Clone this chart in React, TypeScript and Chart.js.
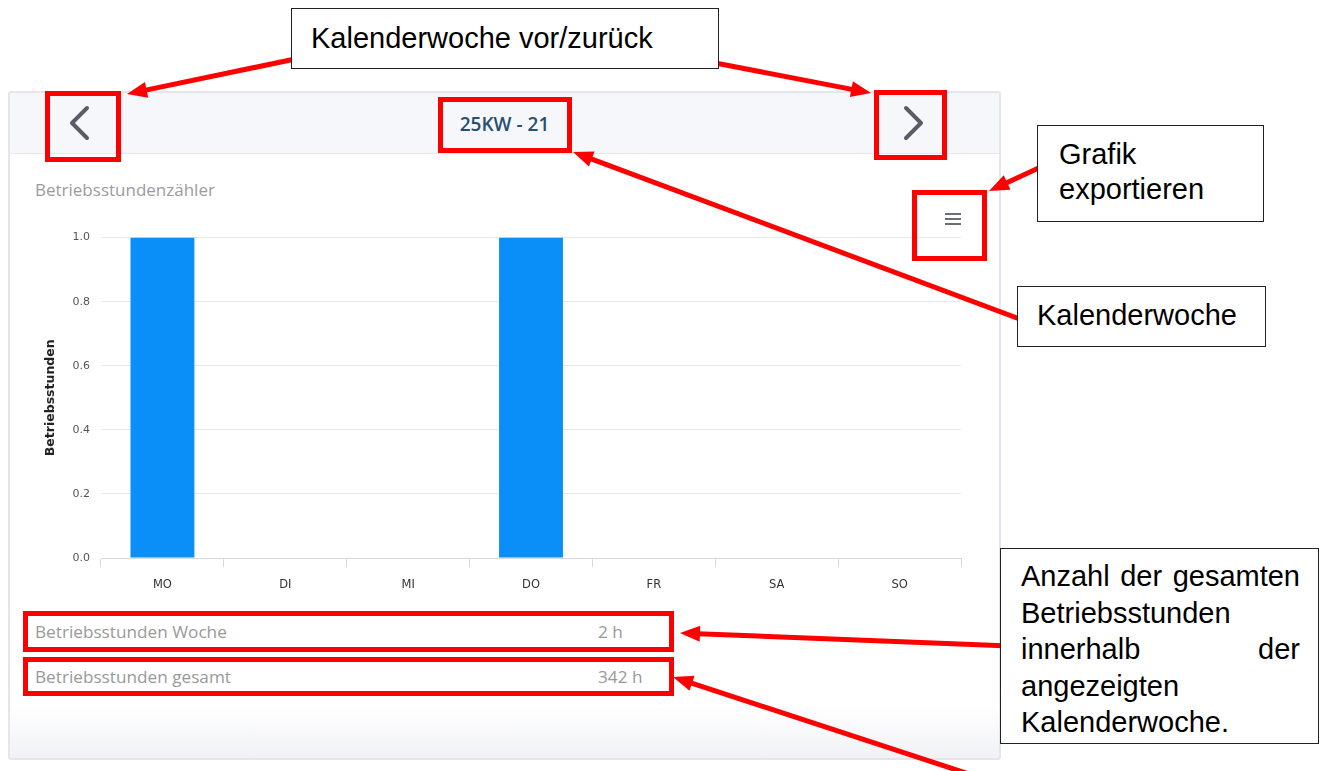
import React, { useEffect, useRef } from "react";
import { Chart, registerables } from "chart.js";
Chart.register(...registerables);

// ---- data ----
const days = ["MO", "DI", "MI", "DO", "FR", "SA", "SO"];
const hours = [1, 0, 0, 1, 0, 0, 0];
const yTicks = [0, 0.2, 0.4, 0.6, 0.8, 1.0];
const weekLabel = "25KW - 21";
const chartTitle = "Betriebsstundenzähler";
const yAxisTitle = "Betriebsstunden";
const summaryLabels = ["Betriebsstunden Woche", "Betriebsstunden gesamt"];
const summaryValues = ["2 h", "342 h"];
const noteNav = "Kalenderwoche vor/zurück";
const noteExport = ["Grafik", "exportieren"];
const noteWeek = "Kalenderwoche";
const noteTotal = "Anzahl der gesamten Betriebsstunden innerhalb der angezeigten Kalenderwoche.";

const RED = "#ff0000";
const UI_FONT = "'Open Sans', 'DejaVu Sans', sans-serif";
const NOTE_FONT = "'Liberation Sans', Arial, sans-serif";

function Arrow({ x1, y1, x2, y2 }: { x1: number; y1: number; x2: number; y2: number }) {
  const dx = x2 - x1, dy = y2 - y1;
  const len = Math.hypot(dx, dy);
  const ux = dx / len, uy = dy / len;
  const hl = 20, hw = 8;
  const bx = x2 - ux * hl, by = y2 - uy * hl;
  const px = -uy, py = ux;
  const pts = `${x2},${y2} ${bx + px * hw},${by + py * hw} ${bx - px * hw},${by - py * hw}`;
  return (
    <g>
      <line x1={x1} y1={y1} x2={bx + ux * 2} y2={by + uy * 2} stroke={RED} strokeWidth={5} />
      <polygon points={pts} fill={RED} />
    </g>
  );
}

function RedBox({ x, y, w, h }: { x: number; y: number; w: number; h: number }) {
  return (
    <div style={{ position: "absolute", left: x, top: y, width: w, height: h, border: `5px solid ${RED}`, boxSizing: "border-box" }} />
  );
}

export default function App() {
  const ref = useRef<HTMLCanvasElement | null>(null);

  useEffect(() => {
    if (!ref.current) return;
    const chart = new Chart(ref.current, {
      type: "bar",
      data: {
        labels: days,
        datasets: [
          {
            data: hours,
            backgroundColor: "#0a8ff8",
            barPercentage: 0.52,
            categoryPercentage: 1,
          },
        ],
      },
      options: {
        animation: false,
        responsive: false,
        maintainAspectRatio: false,
        layout: { padding: { top: 7, right: 9, left: 0, bottom: 0 } },
        plugins: { legend: { display: false }, tooltip: { enabled: false } },
        scales: {
          x: {
            grid: { drawOnChartArea: false, drawTicks: true, tickLength: 9, color: "#d3d9e6", offset: true },
            border: { color: "#d3d9e6" },
            ticks: { color: "#333", font: { family: "'DejaVu Sans'", size: 11.5 }, padding: 11 },
            afterFit: (s: any) => {
              s.height = 42;
            },
          },
          y: {
            min: 0,
            max: 1,
            afterBuildTicks: (s: any) => {
              s.ticks = yTicks.map((v) => ({ value: v }));
            },
            ticks: {
              color: "#555",
              font: { family: "'DejaVu Sans'", size: 11 },
              padding: 11,
              callback: (v: any) => Number(v).toFixed(1),
            },
            grid: { color: "#e8e8e8", drawTicks: false },
            border: { display: false },
            title: {
              display: true,
              text: yAxisTitle,
              color: "#222",
              font: { family: "'DejaVu Sans'", size: 12.5, weight: "bold" },
              padding: { top: 13, bottom: 0 },
            },
            afterFit: (s: any) => {
              s.width = 71;
            },
          },
        },
      },
    });
    return () => chart.destroy();
  }, []);

  return (
    <div style={{ position: "fixed", left: 0, top: 0, width: 1327, height: 771, background: "#fff", overflow: "hidden" }}>
      {/* card */}
      <div
        style={{
          position: "absolute",
          left: 8,
          top: 91,
          width: 993,
          height: 669,
          border: "2px solid #e4e6ec",
          borderRadius: 3,
          boxSizing: "border-box",
          background: "linear-gradient(to bottom, #fff 0%, #fff 92%, #f1f2f5 100%)",
        }}
      />
      {/* header band */}
      <div
        style={{
          position: "absolute",
          left: 10,
          top: 93,
          width: 989,
          height: 60,
          background: "#f6f7fa",
          borderBottom: "1px solid #e6e8ee",
        }}
      />
      <div
        style={{
          position: "absolute",
          left: 438,
          top: 108,
          width: 133,
          height: 32,
          lineHeight: "32px",
          textAlign: "center",
          fontFamily: UI_FONT,
          fontWeight: 600,
          fontSize: 19,
          color: "#26506f",
        }}
      >
        {weekLabel}
      </div>
      <div style={{ position: "absolute", left: 35, top: 178, fontFamily: UI_FONT, fontSize: 17, lineHeight: "24px", color: "#9c9c9c" }}>
        {chartTitle}
      </div>

      <canvas ref={ref} width={940} height={380} style={{ position: "absolute", left: 30, top: 220, width: 940, height: 380 }} />

      {summaryLabels.map((lab, i) => (
        <React.Fragment key={lab}>
          <div
            style={{
              position: "absolute",
              left: 35,
              top: 620 + i * 45,
              lineHeight: "24px",
              fontFamily: UI_FONT,
              fontSize: 17.2,
              color: "#999",
              whiteSpace: "nowrap",
            }}
          >
            {lab}
          </div>
          <div
            style={{
              position: "absolute",
              left: 598,
              top: 620 + i * 45,
              lineHeight: "24px",
              fontFamily: UI_FONT,
              fontSize: 17.2,
              color: "#999",
              whiteSpace: "nowrap",
            }}
          >
            {summaryValues[i]}
          </div>
        </React.Fragment>
      ))}

      {/* icons */}
      <svg width={1327} height={771} style={{ position: "absolute", left: 0, top: 0 }}>
        <polyline points="87,108 72,123 87,138" fill="none" stroke="#585c66" strokeWidth={4} strokeLinecap="round" strokeLinejoin="round" />
        <polyline points="906,108 921,123 906,138" fill="none" stroke="#585c66" strokeWidth={4} strokeLinecap="round" strokeLinejoin="round" />
        <line x1={945} y1={214} x2={961} y2={214} stroke="#6b6e78" strokeWidth={2} />
        <line x1={945} y1={219} x2={961} y2={219} stroke="#6b6e78" strokeWidth={2} />
        <line x1={945} y1={224} x2={961} y2={224} stroke="#6b6e78" strokeWidth={2} />
      </svg>

      {/* red highlight boxes */}
      <RedBox x={45} y={91} w={76} h={71} />
      <RedBox x={438} y={97} w={134} h={56} />
      <RedBox x={874} y={90} w={73} h={70} />
      <RedBox x={912} y={190} w={75} h={71} />
      <RedBox x={23} y={611} w={651} h={41} />
      <RedBox x={23} y={657} w={651} h={39} />

      {/* arrows */}
      <svg width={1327} height={771} style={{ position: "absolute", left: 0, top: 0 }}>
        <Arrow x1={300} y1={58} x2={127} y2={94} />
        <Arrow x1={710} y1={62} x2={871} y2={93} />
        <Arrow x1={1045} y1={165} x2={989} y2={191} />
        <Arrow x1={1025} y1={321} x2={573} y2={152} />
        <Arrow x1={1010} y1={646} x2={680} y2={633} />
        <Arrow x1={975} y1={776} x2={673} y2={677} />
      </svg>

      {/* annotation boxes */}
      <div
        style={{
          position: "absolute",
          left: 291,
          top: 8,
          width: 428,
          height: 61,
          border: "1.5px solid #222",
          boxSizing: "border-box",
          background: "#fff",
          fontFamily: NOTE_FONT,
          fontSize: 29,
          lineHeight: "58px",
          paddingLeft: 19,
          color: "#000",
          whiteSpace: "nowrap",
        }}
      >
        {noteNav}
      </div>
      <div
        style={{
          position: "absolute",
          left: 1037,
          top: 125,
          width: 227,
          height: 97,
          border: "1.5px solid #222",
          boxSizing: "border-box",
          background: "#fff",
          fontFamily: NOTE_FONT,
          fontSize: 29,
          lineHeight: "35px",
          paddingLeft: 21,
          paddingTop: 11,
          color: "#000",
          whiteSpace: "nowrap",
        }}
      >
        {noteExport[0]}
        <br />
        {noteExport[1]}
      </div>
      <div
        style={{
          position: "absolute",
          left: 1017,
          top: 286,
          width: 249,
          height: 61,
          border: "1.5px solid #222",
          boxSizing: "border-box",
          background: "#fff",
          fontFamily: NOTE_FONT,
          fontSize: 29,
          lineHeight: "56px",
          paddingLeft: 19,
          color: "#000",
          whiteSpace: "nowrap",
        }}
      >
        {noteWeek}
      </div>
      <div
        style={{
          position: "absolute",
          left: 1000,
          top: 548,
          width: 319,
          height: 196,
          border: "1.5px solid #222",
          boxSizing: "border-box",
          background: "#fff",
          fontFamily: NOTE_FONT,
          fontSize: 29,
          lineHeight: "36.5px",
          paddingLeft: 20,
          paddingRight: 18,
          paddingTop: 9,
          color: "#000",
          textAlign: "justify",
        }}
      >
        {noteTotal}
      </div>
    </div>
  );
}
